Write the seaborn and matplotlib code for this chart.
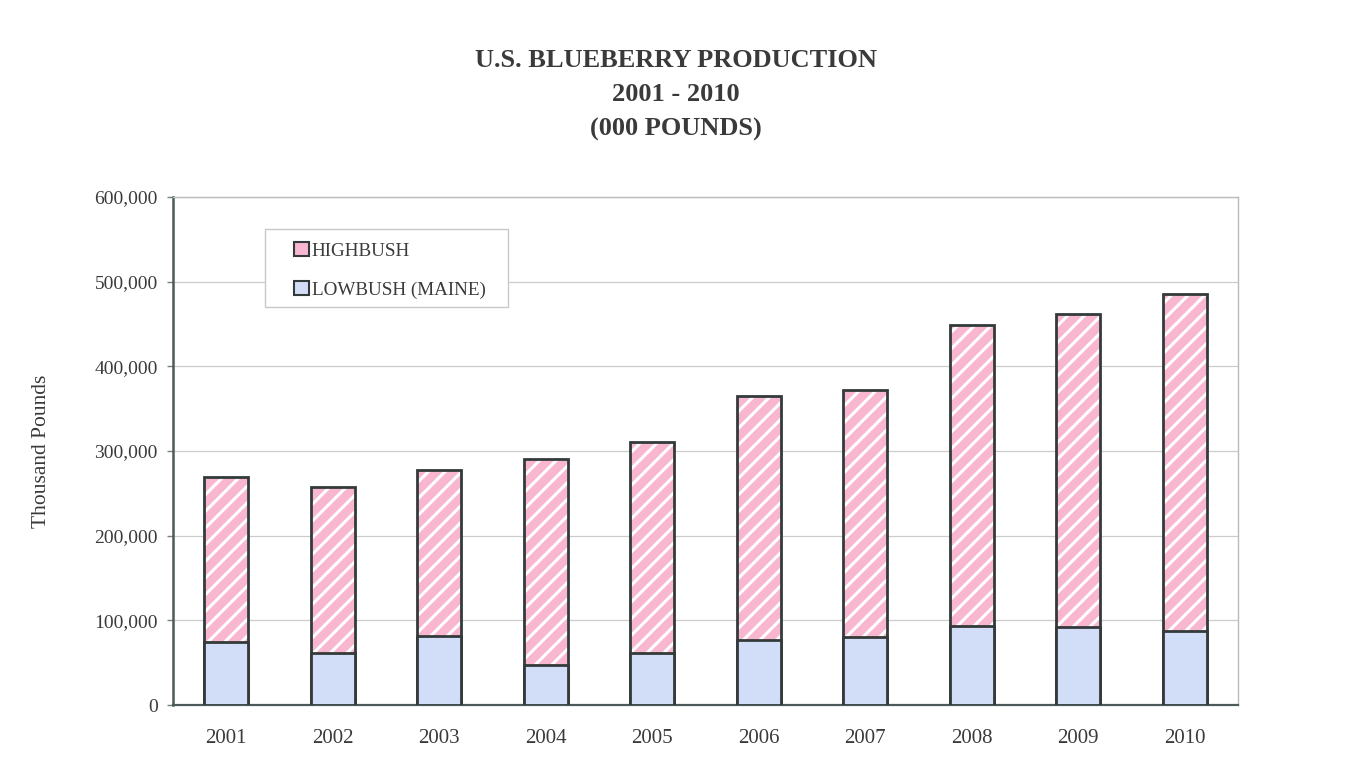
import matplotlib
matplotlib.use('Agg')
import matplotlib.pyplot as plt
from matplotlib.patches import Patch, Rectangle
import seaborn as sns
import numpy as np
import pandas as pd

# data (thousand pounds)
years = ['2001', '2002', '2003', '2004', '2005', '2006', '2007', '2008', '2009', '2010']
lowbush = [75000, 62000, 82000, 47000, 61000, 77000, 80000, 93000, 92000, 87000]
highbush = [194000, 196000, 196000, 243000, 250000, 288000, 292000, 356000, 370000, 398000]
total = [l + h for l, h in zip(lowbush, highbush)]

yticks = [0, 100000, 200000, 300000, 400000, 500000, 600000]

df = pd.DataFrame({'year': years, 'lowbush': lowbush, 'highbush': highbush, 'total': total})

pink = '#f9b6d0'
blue = '#d2def8'
edge = '#333a3a'
txt = '#3a3a3a'

sns.set_style('white')
plt.rcParams['font.family'] = ['Liberation Serif', 'DejaVu Serif']
plt.rcParams['hatch.linewidth'] = 2.2

fig = plt.figure(figsize=(13.52, 7.77), dpi=100)
ax = fig.add_axes([173/1352, 1 - 705/777, (1238-173)/1352, (705-197)/777])

w = 0.41
# highbush: pink with white stripes (stacked on top of lowbush, so draw full total)
sns.barplot(data=df, x='year', y='total', color=pink, saturation=1, width=w,
            edgecolor='white', linewidth=0, hatch='//', ax=ax, zorder=2)
# dark outline around full bar
sns.barplot(data=df, x='year', y='total', fill=False, width=w,
            edgecolor=edge, linewidth=2.0, ax=ax, zorder=3)
# lowbush at the bottom
sns.barplot(data=df, x='year', y='lowbush', color=blue, saturation=1, width=w,
            edgecolor=edge, linewidth=2.0, ax=ax, zorder=4)

ax.set_ylim(0, 600000)
ax.set_xlim(-0.5, len(years) - 0.5)
ax.set_yticks(yticks)
ax.set_yticklabels([f'{v:,}' for v in yticks], fontsize=14, color=txt)
ax.yaxis.grid(True, color='#cccccc', linewidth=0.9, zorder=0)
ax.set_axisbelow(True)

ax.set_xticks(np.arange(len(years)))
ax.set_xticklabels(years, fontsize=15, color=txt)
ax.tick_params(axis='x', length=0, pad=17)
ax.set_xticks(np.arange(len(years) + 1) - 0.5, minor=True)
ax.tick_params(axis='x', which='minor', length=8, direction='inout', color='#b0b0b0', width=1)
ax.tick_params(axis='y', length=4, direction='out', color='#778080', width=1, pad=7, left=True)

ax.set_xlabel('')
ax.set_ylabel('Thousand Pounds', fontsize=15.5, color=txt, labelpad=31)

for s in ['top', 'right']:
    ax.spines[s].set_color('#b8bcbc')
    ax.spines[s].set_linewidth(1)
ax.spines['left'].set_color('#4c5a5a')
ax.spines['left'].set_linewidth(1.8)
ax.spines['bottom'].set_color('#4c5a5a')
ax.spines['bottom'].set_linewidth(1.6)

fig.text(0.5, 1 - 95/777, 'U.S. BLUEBERRY PRODUCTION\n2001 - 2010\n(000 POUNDS)',
         ha='center', va='center', fontsize=19, fontweight='bold', color=txt,
         linespacing=1.63)

# legend box drawn separately so its size matches the original
ax.add_patch(Rectangle(((265-173)/1065, (705-307)/508), (508-265)/1065, (307-229)/508,
                       transform=ax.transAxes, facecolor='white', edgecolor='#c8c8c8',
                       linewidth=1, zorder=5))
handles = [Patch(facecolor=pink, edgecolor=edge, linewidth=1.5, label='HIGHBUSH'),
           Patch(facecolor=blue, edgecolor=edge, linewidth=1.5, label='LOWBUSH (MAINE)')]
leg = ax.legend(handles=handles, loc='upper left',
                bbox_to_anchor=((288-173)/1065, (705-236)/508),
                fontsize=13.8, frameon=False, handlelength=0.8, handleheight=0.8,
                handletextpad=0.15, labelspacing=1.1, borderpad=0.3, borderaxespad=0)
leg.set_zorder(6)
for t in leg.get_texts():
    t.set_color(txt)

fig.savefig('out.png', dpi=100)
